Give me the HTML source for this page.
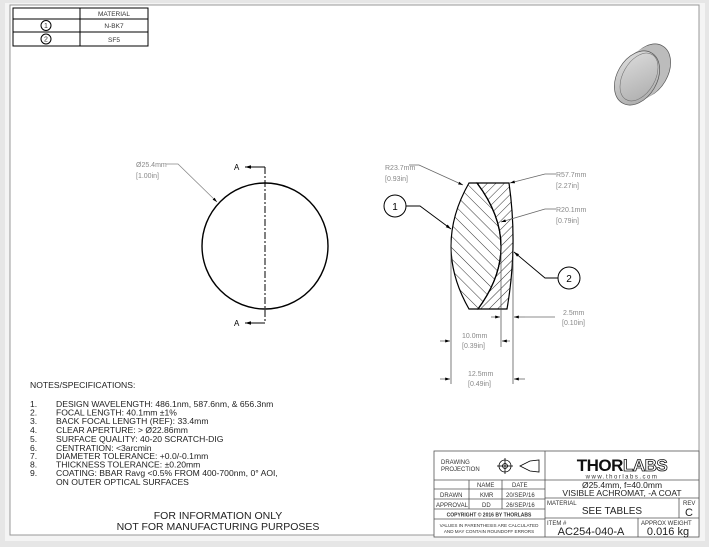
<!DOCTYPE html>
<html><head><meta charset="utf-8"><style>
html,body{margin:0;padding:0;background:#e6e6e6;}
svg{display:block;font-family:"Liberation Sans",sans-serif;}
</style></head><body>
<svg width="709" height="547" viewBox="0 0 709 547" xmlns="http://www.w3.org/2000/svg">
<defs>
<pattern id="h1" patternUnits="userSpaceOnUse" width="8" height="8" patternTransform="rotate(-45)"><line x1="0" y1="0" x2="0" y2="8" stroke="#000" stroke-width="0.8"/></pattern>
<pattern id="h2" patternUnits="userSpaceOnUse" width="6" height="6" patternTransform="rotate(45)"><line x1="0" y1="0" x2="0" y2="6" stroke="#000" stroke-width="0.8"/></pattern>
<marker id="ar" viewBox="0 0 10 10" refX="10" refY="5" markerWidth="6" markerHeight="6" orient="auto-start-reverse"><path d="M0,2 L10,5 L0,8 z" fill="#000"/></marker>
<linearGradient id="lg" x1="0" y1="0" x2="1" y2="1"><stop offset="0" stop-color="#e0e0e0"/><stop offset="1" stop-color="#a8a8a8"/></linearGradient>
<ellipse id="le" cx="0" cy="0" rx="20" ry="29" transform="rotate(30)"/>
</defs>
<rect x="5" y="3" width="700" height="538" fill="#f4f4f4"/>
<rect x="10" y="5" width="689" height="530" fill="#fff" stroke="#999" stroke-width="1"/>

<!-- top table -->
<g stroke="#000" stroke-width="1" fill="none">
<rect x="13" y="8" width="135" height="38"/>
<line x1="13" y1="19" x2="148" y2="19"/><line x1="13" y1="32" x2="148" y2="32"/>
<line x1="80" y1="8" x2="80" y2="46"/>
<circle cx="46" cy="25.5" r="5"/><circle cx="46" cy="39" r="5"/>
</g>
<g font-size="6.5" text-anchor="middle" fill="#333">
<text x="114" y="16">MATERIAL</text><text x="114" y="28">N-BK7</text><text x="114" y="42">SF5</text>
<text x="46" y="28" font-size="7">1</text><text x="46" y="41.5" font-size="7">2</text>
</g>

<!-- 3D lens -->
<g fill="#bcbcbc">
<use href="#le" x="648" y="71" stroke="#555" stroke-width="0.7"/>
<use href="#le" x="646.6" y="71.9"/>
<use href="#le" x="645.2" y="72.8"/>
<use href="#le" x="643.8" y="73.6"/>
<use href="#le" x="642.4" y="74.5"/>
<use href="#le" x="641" y="75.3"/>
<use href="#le" x="639.6" y="76.2"/>
<use href="#le" x="638.3" y="77.1"/>
</g>
<use href="#le" x="637" y="78" fill="url(#lg)" stroke="#555" stroke-width="0.7"/>
<ellipse cx="639" cy="77" rx="16" ry="26" transform="rotate(30 639 77)" fill="none" stroke="#666" stroke-width="0.5"/>

<!-- front view circle -->
<circle cx="265" cy="246" r="63" fill="none" stroke="#000" stroke-width="1.4"/>
<line x1="265" y1="167" x2="265" y2="323" stroke="#000" stroke-width="1" stroke-dasharray="7,2,2,2"/>
<line x1="265" y1="167" x2="245" y2="167" stroke="#000" stroke-width="1" marker-end="url(#ar)"/>
<line x1="265" y1="323" x2="245" y2="323" stroke="#000" stroke-width="1" marker-end="url(#ar)"/>
<text x="234" y="170" font-size="8">A</text><text x="234" y="326" font-size="8">A</text>
<polyline points="166,164 178,164 217,202" fill="none" stroke="#888" stroke-width="0.8" marker-end="url(#ar)"/>
<text x="136" y="167" font-size="7" fill="#888">Ø25.4mm</text>
<text x="136" y="178" font-size="7" fill="#888">[1.00in]</text>

<!-- section lens -->
<path d="M469,183 L477,183 Q524.5,246 478,309 L469,309 Q433,246 469,183 Z" fill="url(#h1)" stroke="#000" stroke-width="1.2"/>
<path d="M477,183 L509,183 Q518,246 507,309 L478,309 Q524.5,246 477,183 Z" fill="url(#h2)" stroke="#000" stroke-width="1.2"/>
<g stroke="#444" stroke-width="0.7">
<line x1="451" y1="240" x2="451" y2="384"/>
<line x1="501" y1="245" x2="501" y2="347"/>
<line x1="513" y1="255" x2="513" y2="384"/>
</g>
<g stroke="#666" stroke-width="0.8" fill="none">
<line x1="491" y1="317" x2="500" y2="317" marker-end="url(#ar)"/>
<line x1="525" y1="317" x2="514" y2="317" marker-end="url(#ar)"/>
<line x1="525" y1="317" x2="555" y2="317"/>
<line x1="440" y1="341" x2="450" y2="341" marker-end="url(#ar)"/>
<line x1="510" y1="341" x2="502" y2="341" marker-end="url(#ar)"/>
<line x1="440" y1="379" x2="450" y2="379" marker-end="url(#ar)"/>
<line x1="525" y1="379" x2="514" y2="379" marker-end="url(#ar)"/>
<polyline points="409,165 419,165 463,185" marker-end="url(#ar)"/>
<polyline points="556,174 545,174 510,183" marker-end="url(#ar)"/>
<polyline points="556,209 545,209 501,222" marker-end="url(#ar)"/>
</g>
<g font-size="7" fill="#888">
<text x="385" y="170">R23.7mm</text><text x="385" y="181">[0.93in]</text>
<text x="556" y="177">R57.7mm</text><text x="556" y="188">[2.27in]</text>
<text x="556" y="212">R20.1mm</text><text x="556" y="223">[0.79in]</text>
<text x="563" y="315">2.5mm</text><text x="562" y="325">[0.10in]</text>
<text x="462" y="338">10.0mm</text><text x="462" y="348">[0.39in]</text>
<text x="468" y="376">12.5mm</text><text x="468" y="386">[0.49in]</text>
</g>
<circle cx="395" cy="206" r="11" fill="#fff" stroke="#000" stroke-width="1"/>
<text x="395" y="210" font-size="10" text-anchor="middle">1</text>
<polyline points="406,206 420,206 451,229" fill="none" stroke="#000" stroke-width="0.9" marker-end="url(#ar)"/>
<circle cx="569" cy="278" r="11" fill="#fff" stroke="#000" stroke-width="1"/>
<text x="569" y="282" font-size="10" text-anchor="middle">2</text>
<polyline points="558,278 545,278 514,252" fill="none" stroke="#000" stroke-width="0.9" marker-end="url(#ar)"/>

<!-- notes -->
<g font-size="8.6" fill="#222">
<text x="30" y="388">NOTES/SPECIFICATIONS:</text>
<text x="30" y="407">1.</text><text x="56" y="407">DESIGN WAVELENGTH: 486.1nm, 587.6nm, &amp; 656.3nm</text>
<text x="30" y="415.5">2.</text><text x="56" y="415.5">FOCAL LENGTH: 40.1mm ±1%</text>
<text x="30" y="424">3.</text><text x="56" y="424">BACK FOCAL LENGTH (REF): 33.4mm</text>
<text x="30" y="433">4.</text><text x="56" y="433">CLEAR APERTURE: &gt; Ø22.86mm</text>
<text x="30" y="442">5.</text><text x="56" y="442">SURFACE QUALITY: 40-20 SCRATCH-DIG</text>
<text x="30" y="451">6.</text><text x="56" y="451">CENTRATION: &lt;3arcmin</text>
<text x="30" y="459">7.</text><text x="56" y="459">DIAMETER TOLERANCE: +0.0/-0.1mm</text>
<text x="30" y="467.5">8.</text><text x="56" y="467.5">THICKNESS TOLERANCE: ±0.20mm</text>
<text x="30" y="476">9.</text><text x="56" y="476">COATING: BBAR Ravg &lt;0.5% FROM 400-700nm, 0° AOI,</text>
<text x="56" y="485">ON OUTER OPTICAL SURFACES</text>
</g>
<g font-size="10.5" fill="#222" text-anchor="middle">
<text x="218" y="519">FOR INFORMATION ONLY</text>
<text x="218" y="530">NOT FOR MANUFACTURING PURPOSES</text>
</g>

<!-- title block -->
<g stroke="#555" stroke-width="0.8" fill="none">
<rect x="434" y="451" width="265" height="86" fill="#fff"/>
<line x1="545" y1="451" x2="545" y2="537"/>
<line x1="434" y1="480" x2="545" y2="480"/>
<line x1="434" y1="489" x2="545" y2="489"/>
<line x1="434" y1="499" x2="545" y2="499"/>
<line x1="434" y1="509" x2="545" y2="509"/>
<line x1="434" y1="519" x2="545" y2="519"/>
<line x1="469" y1="480" x2="469" y2="509"/>
<line x1="502" y1="480" x2="502" y2="509"/>
<line x1="545" y1="480" x2="699" y2="480"/>
<line x1="545" y1="498" x2="699" y2="498"/>
<line x1="545" y1="518" x2="699" y2="518"/>
<line x1="679" y1="498" x2="679" y2="518"/>
<line x1="638" y1="518" x2="638" y2="537"/>
</g>
<g stroke="#000" stroke-width="0.8" fill="none">
<circle cx="505" cy="466" r="6"/><circle cx="505" cy="466" r="2.5"/>
<line x1="497" y1="466" x2="513" y2="466"/><line x1="505" y1="458" x2="505" y2="474"/>
<polygon points="520,466 530,461 539,460 539,472 530,471"/>
</g>
<g font-size="6" fill="#333">
<text x="441" y="464">DRAWING</text><text x="441" y="471">PROJECTION</text>
<text x="477" y="487">NAME</text><text x="512" y="487">DATE</text>
<text x="440" y="497">DRAWN</text><text x="480" y="497">KMR</text><text x="506" y="497">20/SEP/16</text>
<text x="436" y="507">APPROVAL</text><text x="482" y="507">DD</text><text x="506" y="507">26/SEP/16</text>
<text x="489" y="516.5" font-size="5" text-anchor="middle" font-weight="bold">COPYRIGHT © 2016 BY THORLABS</text>
<text x="489" y="527" font-size="4.6" text-anchor="middle">VALUES IN PARENTHESIS ARE CALCULATED</text>
<text x="489" y="533" font-size="4.6" text-anchor="middle">AND MAY CONTAIN ROUNDOFF ERRORS</text>
<text x="547" y="505">MATERIAL</text>
<text x="547" y="525">ITEM #</text>
<text x="641" y="525">APPROX WEIGHT</text>
<text x="683" y="505">REV</text>
</g>
<text x="622" y="471" font-size="17" font-weight="bold" text-anchor="middle" fill="#111" letter-spacing="-0.5">THOR<tspan fill="#fff" stroke="#111" stroke-width="0.8">LABS</tspan></text>
<text x="622" y="478.5" font-size="6" text-anchor="middle" fill="#333" letter-spacing="1.5">www.thorlabs.com</text>
<g fill="#222" text-anchor="middle">
<text x="622" y="488" font-size="8.5">Ø25.4mm, f=40.0mm</text>
<text x="622" y="496" font-size="8.5">VISIBLE ACHROMAT, -A COAT</text>
<text x="612" y="514" font-size="10">SEE TABLES</text>
<text x="689" y="516" font-size="11">C</text>
<text x="591" y="535" font-size="11">AC254-040-A</text>
<text x="668" y="535" font-size="11">0.016 kg</text>
</g>
</svg>
</body></html>
